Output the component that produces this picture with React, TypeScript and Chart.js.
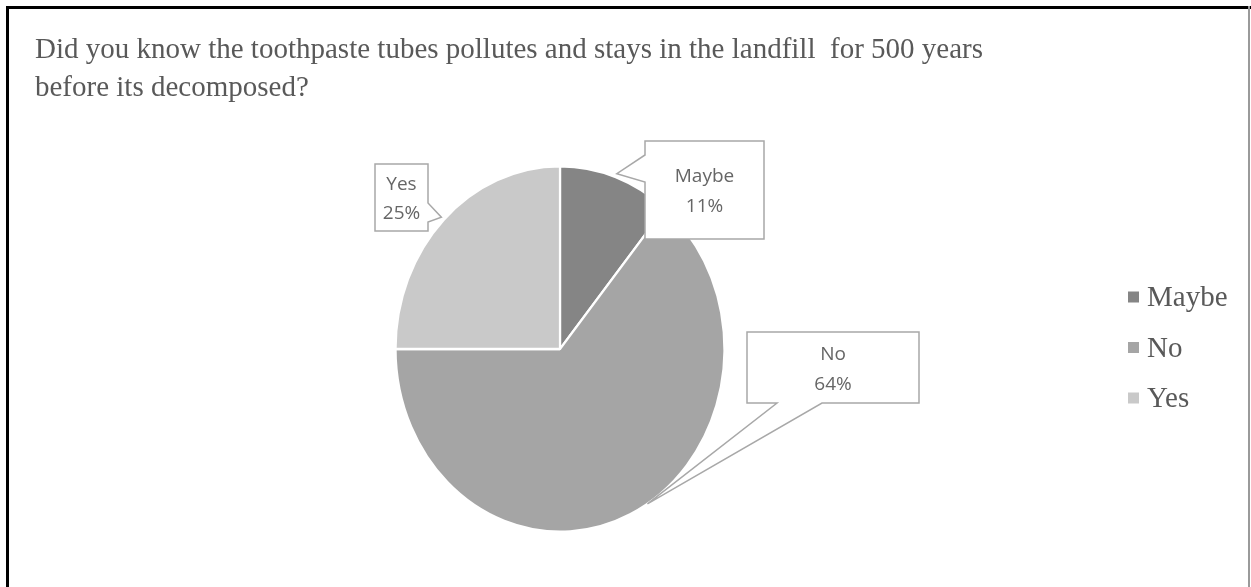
import React, { useEffect, useRef } from "react";
import { Chart, registerables } from "chart.js";

Chart.register(...registerables);

// ---------- data ----------
const TITLE_LINES = [
  "Did you know the toothpaste tubes pollutes and stays in the landfill  for 500 years",
  "before its decomposed?",
];
const CATEGORIES = ["Maybe", "No", "Yes"];
const PERCENTS = [11, 64, 25];
const SLICE_COLORS = ["#858585", "#a5a5a5", "#c9c9c9"];

// ---------- layout / style ----------
const W = 1251;
const H = 587;
const SQUASH_X = 0.9; // pie is drawn slightly elliptical, as in the reference
const SERIF = '"Liberation Serif", "Times New Roman", serif';
const SANS = '"Open Sans", "Noto Sans", sans-serif';

type Callout = {
  box: [number, number, number, number]; // left, top, right, bottom
  side: "left" | "right" | "bottom";
  gap: [number, number];
  frac: number; // where along the arc the pointer aims
  rf: number; // radius factor of pointer tip
  lines: [number, number]; // y of the two text lines
};
const CALLOUTS: Callout[] = [
  { box: [645, 141, 764, 239], side: "left", gap: [155, 182], frac: 0.5, rf: 1.02, lines: [177, 207] },
  { box: [747, 332, 919, 403], side: "bottom", gap: [777, 822], frac: 0.47, rf: 1.0, lines: [355, 385] },
  { box: [375, 164, 428, 231], side: "right", gap: [203, 222], frac: 0.5, rf: 1.02, lines: [185, 214] },
];

const squashPlugin = {
  id: "squash",
  beforeDatasetsDraw(chart: any) {
    const { ctx, chartArea } = chart;
    const cx = (chartArea.left + chartArea.right) / 2;
    ctx.save();
    ctx.translate(cx, 0);
    ctx.scale(SQUASH_X, 1);
    ctx.translate(-cx, 0);
  },
  afterDatasetsDraw(chart: any) {
    chart.ctx.restore();
  },
};

const decorPlugin = {
  id: "decor",
  afterDraw(chart: any) {
    const ctx: CanvasRenderingContext2D = chart.ctx;
    ctx.save();

    // frame
    ctx.fillStyle = "#000";
    ctx.fillRect(6, 6, 3, H - 6);
    ctx.fillRect(6, 6, W - 6, 3);
    ctx.fillStyle = "#9a9a9a";
    ctx.fillRect(W - 3, 6, 2, H - 6);

    // title
    ctx.fillStyle = "#595959";
    ctx.font = `29px ${SERIF}`;
    ctx.textAlign = "left";
    ctx.textBaseline = "alphabetic";
    TITLE_LINES.forEach((t, i) => ctx.fillText(t, 35, 58 + i * 38));

    // callouts
    const meta = chart.getDatasetMeta(0);
    const data = chart.data.datasets[0].data as number[];
    const labels = chart.data.labels as string[];
    const total = data.reduce((a, b) => a + b, 0);
    meta.data.forEach((arc: any, i: number) => {
      const c = CALLOUTS[i];
      if (!c) return;
      const p = arc.getProps(["x", "y", "startAngle", "endAngle", "outerRadius"], true);
      const a = p.startAngle + (p.endAngle - p.startAngle) * c.frac;
      const r = p.outerRadius * c.rf;
      const tx = p.x + Math.cos(a) * r * SQUASH_X;
      const ty = p.y + Math.sin(a) * r;
      const [L, T, R, B] = c.box;
      ctx.beginPath();
      ctx.moveTo(L, T);
      ctx.lineTo(R, T);
      if (c.side === "right") {
        ctx.lineTo(R, c.gap[0]);
        ctx.lineTo(tx, ty);
        ctx.lineTo(R, c.gap[1]);
      }
      ctx.lineTo(R, B);
      if (c.side === "bottom") {
        ctx.lineTo(c.gap[1], B);
        ctx.lineTo(tx, ty);
        ctx.lineTo(c.gap[0], B);
      }
      ctx.lineTo(L, B);
      if (c.side === "left") {
        ctx.lineTo(L, c.gap[1]);
        ctx.lineTo(tx, ty);
        ctx.lineTo(L, c.gap[0]);
      }
      ctx.closePath();
      ctx.fillStyle = "#ffffff";
      ctx.fill();
      ctx.strokeStyle = "#a8a8a8";
      ctx.lineWidth = 1.5;
      ctx.stroke();

      ctx.fillStyle = "#666666";
      ctx.font = `19px ${SANS}`;
      ctx.textAlign = "center";
      ctx.textBaseline = "middle";
      const mx = (L + R) / 2;
      ctx.fillText(labels[i], mx, c.lines[0]);
      ctx.fillText(`${Math.round((data[i] / total) * 100)}%`, mx, c.lines[1]);
    });

    // legend
    const colors = chart.data.datasets[0].backgroundColor as string[];
    labels.forEach((lab, i) => {
      const cy = 297 + i * 50.5;
      ctx.fillStyle = colors[i];
      ctx.fillRect(1128, cy - 5.5, 11, 11);
      ctx.fillStyle = "#595959";
      ctx.font = `29px ${SERIF}`;
      ctx.textAlign = "left";
      ctx.textBaseline = "alphabetic";
      ctx.fillText(lab, 1147, cy + 9);
    });

    ctx.restore();
  },
};

export default function App() {
  const ref = useRef<HTMLCanvasElement | null>(null);
  useEffect(() => {
    if (!ref.current) return;
    const chart = new Chart(ref.current, {
      type: "pie",
      data: {
        labels: CATEGORIES,
        datasets: [
          {
            data: PERCENTS,
            backgroundColor: SLICE_COLORS,
            borderColor: "#ffffff",
            borderWidth: 2.5,
          },
        ],
      },
      options: {
        responsive: true,
        maintainAspectRatio: false,
        animation: false,
        layout: { padding: { left: 376, right: W - 744, top: 165, bottom: H - 533 } },
        plugins: {
          legend: { display: false },
          title: { display: false },
          tooltip: { enabled: false },
        },
      },
      plugins: [squashPlugin, decorPlugin],
    });
    return () => chart.destroy();
  }, []);
  return (
    <div style={{ position: "fixed", left: 0, top: 0, width: W, height: H, background: "#fff" }}>
      <canvas ref={ref} />
    </div>
  );
}
